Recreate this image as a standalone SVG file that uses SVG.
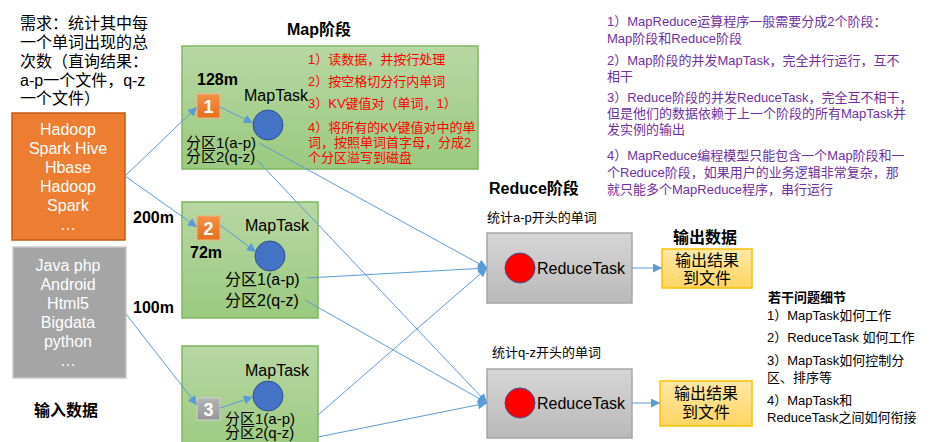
<svg xmlns="http://www.w3.org/2000/svg" width="936" height="442" viewBox="0 0 936 442">
<defs>
<linearGradient id="gGreen" x1="0" y1="0" x2="0" y2="1"><stop offset="0" stop-color="#b7d7a3"/><stop offset="1" stop-color="#9bca80"/></linearGradient>
<linearGradient id="gGray" x1="0" y1="0" x2="0" y2="1"><stop offset="0" stop-color="#d6d6d6"/><stop offset="1" stop-color="#b9b9b9"/></linearGradient>
<linearGradient id="gOut" x1="0" y1="0" x2="0" y2="1"><stop offset="0" stop-color="#ffe8a6"/><stop offset="1" stop-color="#ffd461"/></linearGradient>
<linearGradient id="gOrange" x1="0" y1="0" x2="0" y2="1"><stop offset="0" stop-color="#f3914a"/><stop offset="1" stop-color="#e2701f"/></linearGradient>
<linearGradient id="gSq3" x1="0" y1="0" x2="0" y2="1"><stop offset="0" stop-color="#b4b4b4"/><stop offset="1" stop-color="#979797"/></linearGradient>
<marker id="arr" viewBox="0 0 10 10" markerUnits="userSpaceOnUse" markerWidth="10" markerHeight="9" refX="10" refY="5" orient="auto"><path d="M0,0 L10,5 L0,10 z" fill="#5b9bd5"/></marker>
</defs>
<style>
text{font-family:"Liberation Sans","Noto Sans CJK SC",sans-serif;}
.t16{font-size:16px;fill:#000;}
.p15{font-size:15px;fill:#000;}
.b16{font-size:16px;font-weight:bold;fill:#000;}
.w16{font-size:16px;fill:#fff;text-anchor:middle;}
.red{font-size:13px;fill:#ff0000;}
.pur{font-size:13px;fill:#7030a0;}
.blk{font-size:13px;fill:#000;}
.map{fill:url(#gGreen);stroke:#7fb65e;stroke-width:1.5;}
.circ{fill:#4472c4;stroke:#2f528f;stroke-width:1;}
.rcirc{fill:#ff0000;stroke:#3a4f8f;stroke-width:1;}
.sq{fill:url(#gOrange);stroke:#f4b183;stroke-width:1;}
.num{font-size:18px;font-weight:bold;fill:#fff;text-anchor:middle;}
.red-box{fill:url(#gGray);stroke:#a6a6a6;stroke-width:1.5;}
.out{fill:url(#gOut);stroke:#ffc000;stroke-width:1.5;}
.conn line{stroke:#5b9bd5;stroke-width:1;marker-end:url(#arr);}
</style>

<g id="requirement">
<text class="t16" x="20" y="29">需求：统计其中每</text>
<text class="t16" x="20" y="48">一个单词出现的总</text>
<text class="t16" x="20" y="67">次数（直询结果：</text>
<text class="t16" x="20" y="86">a-p一个文件，q-z</text>
<text class="t16" x="20" y="104">一个文件）</text>
</g>

<g id="input1">
<rect x="12" y="113" width="113" height="127" fill="#ed7d31" stroke="#c55a11" stroke-width="1.5"/>
<text class="w16" x="68" y="135">Hadoop</text>
<text class="w16" x="68" y="154">Spark Hive</text>
<text class="w16" x="68" y="173">Hbase</text>
<text class="w16" x="68" y="192">Hadoop</text>
<text class="w16" x="68" y="211">Spark</text>
<text class="w16" x="68" y="230">…</text>
</g>

<g id="input2">
<rect x="13" y="247" width="113" height="131" fill="#a5a5a5" stroke="#c9c9c9" stroke-width="1.5"/>
<text class="w16" x="68" y="271">Java php</text>
<text class="w16" x="68" y="290">Android</text>
<text class="w16" x="68" y="309">Html5</text>
<text class="w16" x="68" y="328">Bigdata</text>
<text class="w16" x="68" y="347">python</text>
<text class="w16" x="68" y="366">…</text>
</g>

<g id="labels">
<text class="b16" x="34" y="416">输入数据</text>
<text class="b16" x="133" y="223">200m</text>
<text class="b16" x="133" y="313">100m</text>
<text class="b16" x="287" y="35">Map阶段</text>
<text class="b16" x="489" y="194">Reduce阶段</text>
<text class="b16" x="673" y="243">输出数据</text>
<text class="blk" x="487" y="222">统计a-p开头的单词</text>
<text class="blk" x="492" y="357">统计q-z开头的单词</text>
</g>

<g id="map1">
<rect class="map" x="182" y="46" width="296" height="123"/>
<text class="b16" x="197" y="85">128m</text>
<rect class="sq" x="197" y="94" width="23" height="24"/>
<text class="num" x="208.5" y="113">1</text>
<text class="t16" x="244" y="101">MapTask</text>
<circle class="circ" cx="268" cy="125" r="15"/>
<text class="p15" x="186" y="148">分区1(a-p)</text>
<text class="p15" x="186" y="162">分区2(q-z)</text>
<text class="red" x="308" y="64">1）读数据，并按行处理</text>
<text class="red" x="308" y="86">2）按空格切分行内单词</text>
<text class="red" x="308" y="108">3）KV键值对（单词，1）</text>
<text class="red" x="308" y="132">4）将所有的KV键值对中的单</text>
<text class="red" x="308" y="147">词，按照单词首字母，分成2</text>
<text class="red" x="308" y="162">个分区溢写到磁盘</text>
</g>

<g id="map2">
<rect class="map" x="182" y="202" width="136" height="116"/>
<rect class="sq" x="197" y="216" width="23" height="24"/>
<text class="num" x="208.5" y="235">2</text>
<text class="b16" x="190" y="258">72m</text>
<text class="t16" x="245" y="231">MapTask</text>
<circle class="circ" cx="270" cy="256" r="15"/>
<text class="t16" x="225" y="285">分区1(a-p)</text>
<text class="t16" x="225" y="306">分区2(q-z)</text>
</g>

<g id="map3">
<rect class="map" x="182" y="346" width="136" height="110"/>
<rect x="197" y="398" width="23" height="22" fill="url(#gSq3)" stroke="#d0d0d0" stroke-width="1"/>
<text class="num" x="208.5" y="416">3</text>
<text class="t16" x="245" y="376">MapTask</text>
<circle class="circ" cx="268" cy="396" r="15"/>
<text class="p15" x="225" y="424">分区1(a-p)</text>
<text class="p15" x="225" y="438">分区2(q-z)</text>
</g>

<g id="reduce1">
<rect class="red-box" x="487" y="233" width="145" height="70"/>
<circle class="rcirc" cx="520" cy="268" r="15"/>
<text class="t16" x="537" y="274">ReduceTask</text>
</g>

<g id="reduce2">
<rect class="red-box" x="487" y="369" width="145" height="69"/>
<circle class="rcirc" cx="520" cy="403" r="15"/>
<text class="t16" x="537" y="409">ReduceTask</text>
</g>

<g id="output1">
<rect class="out" x="662" y="249" width="90" height="39"/>
<text class="t16" x="707" y="266" text-anchor="middle">输出结果</text>
<text class="t16" x="707" y="284" text-anchor="middle">到文件</text>
</g>

<g id="output2">
<rect class="out" x="660" y="381" width="92" height="45"/>
<text class="t16" x="706" y="399" text-anchor="middle">输出结果</text>
<text class="t16" x="706" y="418" text-anchor="middle">到文件</text>
</g>

<g id="notes">
<text class="pur" x="607" y="26">1）MapReduce运算程序一般需要分成2个阶段：</text>
<text class="pur" x="607" y="43">Map阶段和Reduce阶段</text>
<text class="pur" x="607" y="65">2）Map阶段的并发MapTask，完全并行运行，互不</text>
<text class="pur" x="607" y="81">相干</text>
<text class="pur" x="607" y="102">3）Reduce阶段的并发ReduceTask，完全互不相干，</text>
<text class="pur" x="607" y="118">但是他们的数据依赖于上一个阶段的所有MapTask并</text>
<text class="pur" x="607" y="134">发实例的输出</text>
<text class="pur" x="607" y="160">4）MapReduce编程模型只能包含一个Map阶段和一</text>
<text class="pur" x="607" y="177">个Reduce阶段，如果用户的业务逻辑非常复杂，那</text>
<text class="pur" x="607" y="194">就只能多个MapReduce程序，串行运行</text>
</g>

<g id="questions">
<text class="blk" x="768" y="302" font-weight="bold">若干问题细节</text>
<text class="blk" x="767" y="320">1）MapTask如何工作</text>
<text class="blk" x="767" y="342">2）ReduceTask 如何工作</text>
<text class="blk" x="767" y="365">3）MapTask如何控制分</text>
<text class="blk" x="767" y="382">区、排序等</text>
<text class="blk" x="767" y="405">4）MapTask和</text>
<text class="blk" x="767" y="422">ReduceTask之间如何衔接</text>
</g>

<g id="connectors" class="conn">
<line x1="125" y1="176" x2="197" y2="107"/>
<line x1="125" y1="176" x2="197" y2="227"/>
<line x1="126" y1="314" x2="197" y2="405"/>
<line x1="220" y1="107" x2="253" y2="123"/>
<line x1="220" y1="225" x2="256" y2="252"/>
<line x1="220" y1="408" x2="253" y2="397"/>
<line x1="259" y1="143" x2="487" y2="268"/>
<line x1="257" y1="160" x2="487" y2="403"/>
<line x1="307" y1="278" x2="487" y2="268"/>
<line x1="305" y1="300" x2="487" y2="403"/>
<line x1="318" y1="415" x2="487" y2="268"/>
<line x1="318" y1="437" x2="487" y2="403"/>
<line x1="632" y1="268" x2="662" y2="268"/>
<line x1="632" y1="403" x2="660" y2="403"/>
</g>
</svg>
